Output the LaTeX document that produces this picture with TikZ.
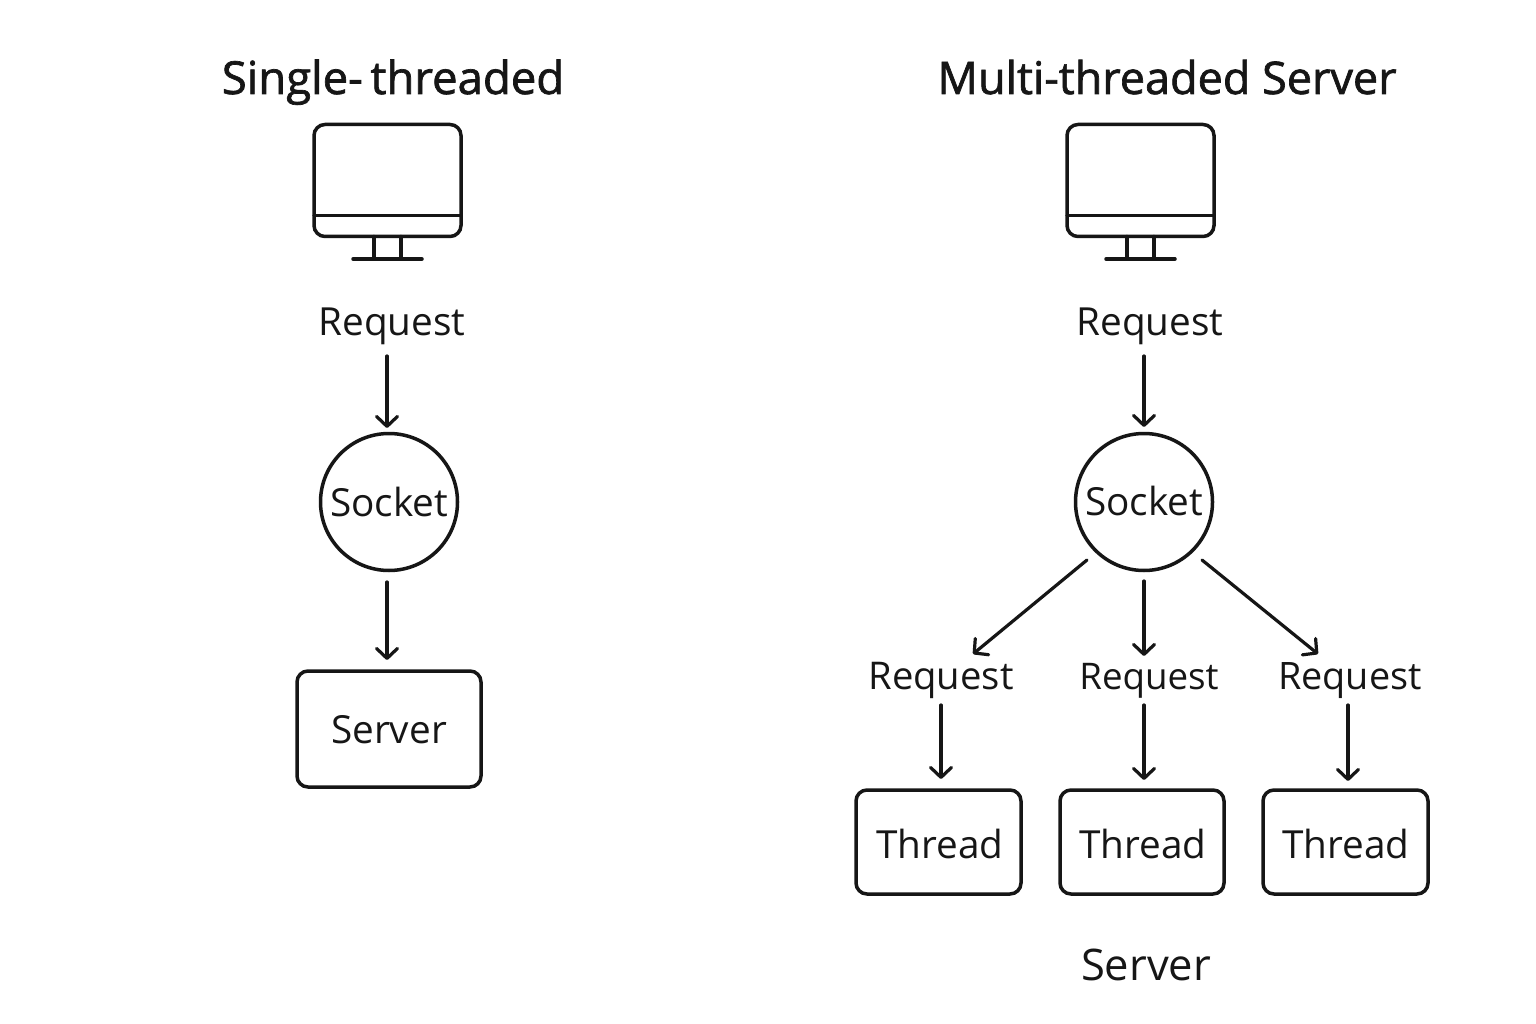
\documentclass[tikz,border=0pt]{standalone}
\usepackage{fontspec}
\setmainfont{Open Sans}
\newfontfamily\ttlfont[FakeBold=1.5]{Open Sans}
\usetikzlibrary{arrows.meta}
\definecolor{ink}{HTML}{161616}
\newcommand{\fsz}[1]{\fontsize{#1}{#1}\selectfont}
\tikzset{
  x=1pt,y=-1pt,
  ln/.style={line width=3.5pt,draw=ink,line cap=round},
  arr/.style={line width=3.2pt,draw=ink,line cap=round,-{Straight Barb[length=10pt,width=21pt,line width=3.2pt,round]}},
  rbox/.style={ln,rounded corners=11pt},
  lab/.style={text=ink,font=\fsz{38.7},inner sep=0pt,anchor=base},
  ttl/.style={text=ink,font=\ttlfont\fsz{45},inner sep=0pt,anchor=base},
  sock/.style={ln,circle,minimum size=137pt,inner sep=0pt},
  boxn/.style={ln,rounded corners=11pt,inner sep=0pt},
}
\newcommand{\monitor}[1]{%
 \begin{scope}[shift={(#1,0)}]
  \draw[rbox] (0,124.5) rectangle (147,236.5);
  \draw[ln] (0,215.5) -- (147,215.5);
  \draw[ln] (60,236.5) -- (60,259) (87,236.5) -- (87,259);
  \draw[ln] (39,259) -- (108,259);
 \end{scope}}
\begin{document}
\begin{tikzpicture}
\useasboundingbox (0,0) rectangle (1536,1024);
\fill[white] (0,0) rectangle (1536,1024);
\node[ttl,font=\ttlfont\fsz{45.5}] (t1) at (393,94) {Single-\,threaded};
\node[ttl] (t2) at (1167,94) {Multi-threaded Server};
\monitor{314}
\monitor{1067}
\node[lab] (r1) at (392,335) {Request};
\node[sock] (s1) at (389,502) {};
\node[lab] (s1t) at (389,516) {Socket};
\node[boxn,minimum width=184pt,minimum height=116pt] (srv) at (389,729) {};
\node[lab] (srvt) at (389,743) {Server};
\coordinate (a1) at (387,356);
\coordinate (a1e) at (387,428);
\draw[arr] (a1) -- (a1e);
\coordinate (a2) at (387,582);
\coordinate (a2e) at (387,660);
\draw[arr] (a2) -- (a2e);
\node[lab] (r2) at (1150,335) {Request};
\node[sock] (s2) at (1144,502) {};
\node[lab] (s2t) at (1144,515) {Socket};
\coordinate (b1) at (1144,356);
\coordinate (b1e) at (1144,427);
\draw[arr] (b1) -- (b1e);
\node[lab,font=\fsz{38.2}] (q1) at (941,689) {Request};
\node[lab,font=\fsz{36.7}] (q2) at (1149,689) {Request};
\node[lab,font=\fsz{37.8}] (q3) at (1350,689) {Request};
\coordinate (c1) at (1087,560);
\coordinate (c1e) at (973,654);
\coordinate (c2) at (1144,581);
\coordinate (c2e) at (1144,656);
\coordinate (c3) at (1202,560);
\coordinate (c3e) at (1318,654);
\draw[arr] (c1) -- (c1e);
\draw[arr] (c2) -- (c2e);
\draw[arr] (c3) -- (c3e);
\node[boxn,minimum width=165pt,minimum height=104pt] (h1) at (938.5,842) {};
\node[boxn,minimum width=164pt,minimum height=104pt] (h2) at (1142,842) {};
\node[boxn,minimum width=165pt,minimum height=104pt] (h3) at (1345.5,842) {};
\node[lab] (h1t) at (940,858) {Thread};
\node[lab] (h2t) at (1143,858) {Thread};
\node[lab] (h3t) at (1346,858) {Thread};
\coordinate (d1) at (941,705);
\coordinate (d1e) at (941,779);
\coordinate (d2) at (1144,705);
\coordinate (d2e) at (1144,780);
\coordinate (d3) at (1348,705);
\coordinate (d3e) at (1348,781);
\draw[arr] (d1) -- (d1e);
\draw[arr] (d2) -- (d2e);
\draw[arr] (d3) -- (d3e);
\node[lab,font=\fsz{43.5}] (sv) at (1146,980) {Server};
\end{tikzpicture}
\end{document}
